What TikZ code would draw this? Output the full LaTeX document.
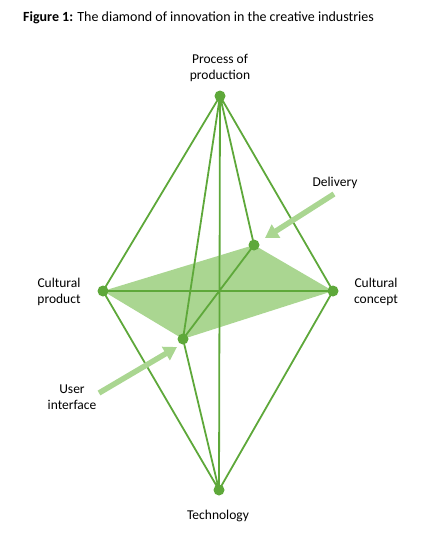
\documentclass[tikz,border=0pt]{standalone}
\usepackage{fontspec}
\setmainfont{Carlito}
\usetikzlibrary{arrows.meta}
\definecolor{lgreen}{HTML}{5EA83A}
\definecolor{pgreen}{HTML}{AAD691}
\begin{document}
\begin{tikzpicture}[x=1pt,y=-1pt,
  edge/.style={draw=lgreen,line width=1.8pt},
  dot/.style={circle,fill=lgreen,inner sep=0pt,minimum size=11pt},
  lbl/.style={align=center,font=\fontsize{13.5}{16}\selectfont,text=black,inner sep=0pt},
  pointer/.style={draw=pgreen,line width=5.5pt,-{Triangle[length=13pt,width=15pt]}}]
\useasboundingbox (0,0) rectangle (429,535);
\node[anchor=base west,inner sep=0pt,font=\fontsize{14}{16}\selectfont] (title) at (23,22) {\textbf{Figure 1:} The diamond of innovation in the creative industries};
\coordinate (T) at (220,96);
\coordinate (B) at (219,490);
\coordinate (L) at (103,291);
\coordinate (R) at (333,291);
\coordinate (D) at (254,245);
\coordinate (U) at (183,339);
\fill[pgreen] (L) -- (D) -- (R) -- (U) -- cycle;
\draw[edge] (T) -- (L) (T) -- (R) (B) -- (L) (B) -- (R)
  (T) -- (D) (T) -- (U) (T) -- (B) (B) -- (U)
  (L) -- (R) (D) -- (U);
\foreach \p in {T,B,L,R,D,U} \node[dot] (n\p) at (\p) {};
\node[lbl] (lt) at (220,68) {Process of\\production};
\node[lbl] (ld) at (335,183) {Delivery};
\node[lbl] (ll) at (59,292) {Cultural\\product};
\node[lbl] (lr) at (376,292) {Cultural\\concept};
\node[lbl] (lu) at (72,397) {User\\interface};
\node[lbl] (lb) at (218,516) {Technology};
\coordinate (dt) at (334,194);
\coordinate (dh) at (265,238);
\coordinate (ut) at (99,393);
\coordinate (uh) at (177,347);
\draw[pointer] (dt) -- (dh);
\draw[pointer] (ut) -- (uh);
\end{tikzpicture}
\end{document}
